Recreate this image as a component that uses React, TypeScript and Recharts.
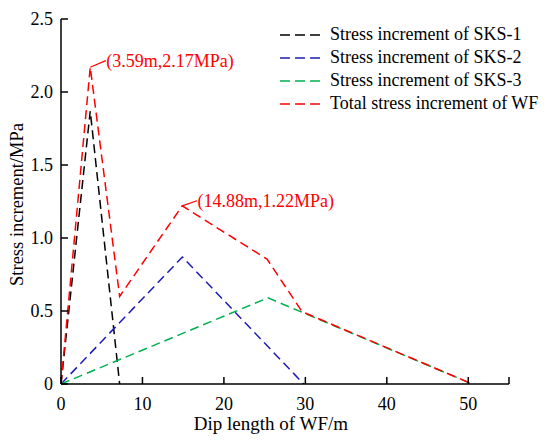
import React from 'react';
import { LineChart, Line, XAxis, YAxis, ReferenceLine, ReferenceDot } from 'recharts';

const FONT = '"Liberation Serif", "Times New Roman", serif';

const sks1 = [
  { x: 0, y: 0 },
  { x: 3.59, y: 1.87 },
  { x: 7.2, y: 0 },
];
const sks2 = [
  { x: 0, y: 0 },
  { x: 14.9, y: 0.87 },
  { x: 29.8, y: 0 },
];
const sks3 = [
  { x: 0, y: 0 },
  { x: 25.4, y: 0.59 },
  { x: 50.5, y: 0 },
];
const total = [
  { x: 0, y: 0 },
  { x: 3.59, y: 2.17 },
  { x: 7.2, y: 0.6 },
  { x: 14.88, y: 1.22 },
  { x: 25.3, y: 0.855 },
  { x: 29.6, y: 0.495 },
  { x: 50.5, y: 0 },
];

const xTicks = [0, 10, 20, 30, 40, 50, 55];
const xTickLabels = ['0', '10', '20', '30', '40', '50', ''];
const yTicks = [0, 0.5, 1, 1.5, 2, 2.5];
const yTickLabels = ['0', '0.5', '1.0', '1.5', '2.0', '2.5'];

const seriesNames = [
  'Stress increment of SKS-1',
  'Stress increment of SKS-2',
  'Stress increment of SKS-3',
  'Total stress increment of WF',
];
const seriesColors = ['#000000', '#1c1cb4', '#00b050', '#ff0000'];

const peak1 = { x: 3.59, y: 2.17, lx: 5.5, ly: 2.215, text: '(3.59m,2.17MPa)' };
const peak2 = { x: 14.88, y: 1.22, lx: 16.7, ly: 1.255, text: '(14.88m,1.22MPa)' };

const DASH = '9 5';

const XTick = (props: any) => {
  const { x, y, payload } = props;
  const i = xTicks.indexOf(payload.value);
  return (
    <g>
      <line x1={x} y1={y} x2={x} y2={y - 7} stroke="#000" strokeWidth={1.5} />
      <text x={x} y={y + 26} textAnchor="middle" fontFamily={FONT} fontSize={18} fill="#000">
        {xTickLabels[i]}
      </text>
    </g>
  );
};

const YTick = (props: any) => {
  const { x, y, payload } = props;
  const i = yTicks.indexOf(payload.value);
  return (
    <g>
      <line x1={x} y1={y} x2={x + 7} y2={y} stroke="#000" strokeWidth={1.5} />
      <text x={x - 8} y={y + 6} textAnchor="end" fontFamily={FONT} fontSize={18} fill="#000">
        {yTickLabels[i]}
      </text>
    </g>
  );
};

const LegendBox = () => (
  <div style={{ position: 'absolute', left: 280, top: 23, fontFamily: FONT, fontSize: 18, color: '#000', lineHeight: '23px' }}>
    {seriesNames.map((n, i) => (
      <div key={n} style={{ display: 'flex', alignItems: 'center', height: 23, whiteSpace: 'nowrap' }}>
        <svg width={41} height={4} style={{ display: 'block' }}>
          <line x1={0} y1={2} x2={41} y2={2} stroke={seriesColors[i]} strokeWidth={1.5} strokeDasharray="10 5" />
        </svg>
        <span style={{ marginLeft: 9 }}>{n}</span>
      </div>
    ))}
  </div>
);

export default function App() {
  return (
    <div style={{ position: 'absolute', left: 0, top: 0, width: 550, height: 443, background: '#fff' }}>
      <LineChart width={550} height={443} margin={{ top: 19, right: 41, bottom: 0, left: 0 }}>
        <XAxis
          type="number"
          dataKey="x"
          domain={[0, 55]}
          ticks={xTicks}
          interval={0}
          height={59}
          tickSize={0}
          tickMargin={0}
          tickLine={false}
          tick={<XTick />}
          axisLine={{ stroke: '#000', strokeWidth: 1.5 }}
          allowDataOverflow
          label={{
            content: (p: any) => {
              const vb = p.viewBox;
              return (
                <text x={vb.x + vb.width / 2 - 14} y={vb.y + 46} textAnchor="middle" fontFamily={FONT} fontSize={19} fill="#000">
                  Dip length of WF/m
                </text>
              );
            },
          }}
        />
        <YAxis
          type="number"
          domain={[0, 2.5]}
          ticks={yTicks}
          interval={0}
          width={61}
          tickSize={0}
          tickMargin={0}
          tickLine={false}
          tick={<YTick />}
          axisLine={{ stroke: '#000', strokeWidth: 1.5 }}
          allowDataOverflow
          label={{
            content: (p: any) => {
              const vb = p.viewBox;
              const cx = vb.x + 23;
              const cy = vb.y + vb.height / 2 + 3;
              return (
                <text x={cx} y={cy} transform={`rotate(-90 ${cx} ${cy})`} textAnchor="middle" fontFamily={FONT} fontSize={18.5} fill="#000">
                  Stress increment/MPa
                </text>
              );
            },
          }}
        />
        <Line data={sks1} dataKey="y" name={seriesNames[0]} stroke={seriesColors[0]} strokeWidth={1.5} strokeDasharray={DASH} dot={false} isAnimationActive={false} type="linear" />
        <Line data={sks2} dataKey="y" name={seriesNames[1]} stroke={seriesColors[1]} strokeWidth={1.5} strokeDasharray={DASH} dot={false} isAnimationActive={false} type="linear" />
        <Line data={sks3} dataKey="y" name={seriesNames[2]} stroke={seriesColors[2]} strokeWidth={1.5} strokeDasharray={DASH} dot={false} isAnimationActive={false} type="linear" />
        <Line data={total} dataKey="y" name={seriesNames[3]} stroke={seriesColors[3]} strokeWidth={1.5} strokeDasharray={DASH} dot={false} isAnimationActive={false} type="linear" />
        <ReferenceLine segment={[{ x: peak1.x, y: peak1.y }, { x: peak1.lx, y: peak1.ly }]} stroke="#ff0000" strokeWidth={1.2} />
        <ReferenceLine segment={[{ x: peak2.x, y: peak2.y }, { x: peak2.lx, y: peak2.ly }]} stroke="#ff0000" strokeWidth={1.2} />
        <ReferenceDot
          x={peak1.lx}
          y={peak1.ly}
          r={0.5}
          fill="none"
          stroke="none"
          label={{ value: peak1.text, position: 'right', offset: 0, fill: '#ff0000', fontSize: 18, fontFamily: FONT }}
        />
        <ReferenceDot
          x={peak2.lx}
          y={peak2.ly}
          r={0.5}
          fill="none"
          stroke="none"
          label={{ value: peak2.text, position: 'right', offset: 0, fill: '#ff0000', fontSize: 18, fontFamily: FONT }}
        />
      </LineChart>
      <LegendBox />
    </div>
  );
}
